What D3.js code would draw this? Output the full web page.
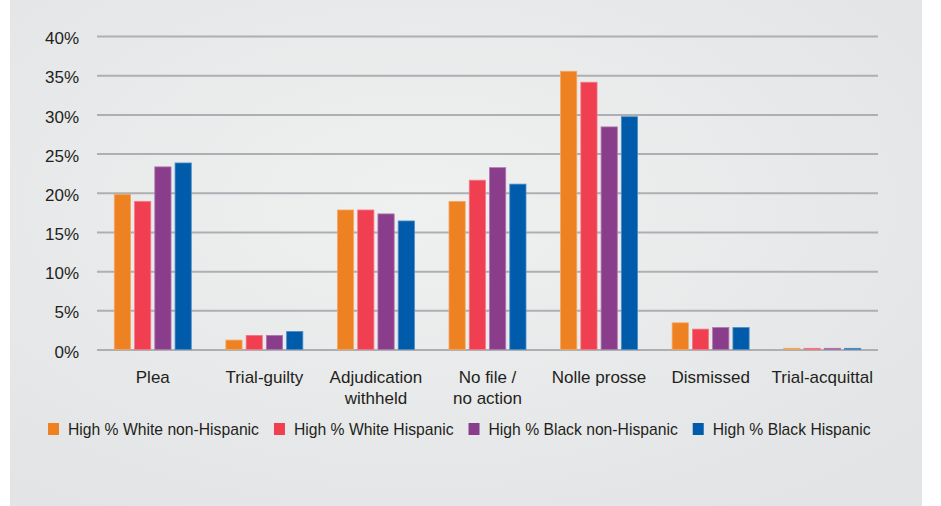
<!DOCTYPE html>
<html>
<head>
<meta charset="utf-8">
<script src="https://cdn.jsdelivr.net/npm/d3@7"></script>
<style>
  body { margin: 0; background: #fff; }
  text { font-family: "Liberation Sans", Arial, sans-serif; fill: #231f20; }
</style>
</head>
<body>
<div id="chart"></div>
<script>
// values (percent of cases)
var categories = ["Plea", "Trial-guilty", "Adjudication\nwithheld", "No file /\nno action", "Nolle prosse", "Dismissed", "Trial-acquittal"];
var seriesNames = ["High % White non-Hispanic", "High % White Hispanic", "High % Black non-Hispanic", "High % Black Hispanic"];
var whiteNonHispanic = [19.8, 1.2, 17.8, 18.9, 35.5, 3.4, 0.15];
var whiteHispanic = [18.9, 1.8, 17.8, 21.6, 34.1, 2.6, 0.15];
var blackNonHispanic = [23.3, 1.8, 17.3, 23.2, 28.4, 2.8, 0.15];
var blackHispanic = [23.8, 2.3, 16.4, 21.1, 29.7, 2.8, 0.15];
var yTicks = [0, 5, 10, 15, 20, 25, 30, 35, 40];
var colors = ["#ee8122", "#ef3f50", "#8a3d8a", "#005baa"];

var series = [whiteNonHispanic, whiteHispanic, blackNonHispanic, blackHispanic];

var width = 941,
  height = 506;

var svg = d3
  .select("#chart")
  .append("svg")
  .attr("width", width)
  .attr("height", height);

// card background with a soft light centre
var grad = svg
  .append("defs")
  .append("radialGradient")
  .attr("id", "bg")
  .attr("cx", "45%")
  .attr("cy", "40%")
  .attr("r", "70%");
grad.append("stop").attr("offset", "0%").attr("stop-color", "#eff0f0");
grad.append("stop").attr("offset", "100%").attr("stop-color", "#e3e4e5");

svg.append("rect").attr("width", width).attr("height", height).attr("fill", "#fff");
svg
  .append("rect")
  .attr("x", 10)
  .attr("y", 0)
  .attr("width", 912)
  .attr("height", height)
  .attr("fill", "url(#bg)");

var x0 = d3
  .scaleBand()
  .domain(categories)
  .range([97, 878])
  .paddingInner(0.31)
  .paddingOuter(0.155);

var x1 = d3
  .scaleBand()
  .domain(d3.range(series.length))
  .range([0, x0.bandwidth()])
  .paddingInner(0.2);

var y = d3.scaleLinear().domain([0, 40]).range([349.5, 36]);

// gridlines + y labels
var yAxis = d3
  .axisLeft(y)
  .tickValues(yTicks)
  .tickSize(-781)
  .tickPadding(18)
  .tickFormat(function (d) {
    return d + "%";
  });

var gy = svg.append("g").attr("transform", "translate(97,0)").call(yAxis);
gy.select(".domain").remove();
gy.selectAll(".tick line").attr("stroke", "#adafb2").attr("stroke-width", 2);
gy.selectAll(".tick text")
  .attr("dy", "0.45em")
  .style("font-size", "17px")
  .style("font-family", '"Liberation Sans", Arial, sans-serif')
  .attr("fill", "#231f20");

// bars
var groups = svg
  .append("g")
  .selectAll("g")
  .data(categories)
  .enter()
  .append("g")
  .attr("transform", function (d) {
    return "translate(" + x0(d) + ",0)";
  });

groups
  .selectAll("rect")
  .data(function (d, i) {
    return series.map(function (s, k) {
      return { k: k, v: s[i] };
    });
  })
  .enter()
  .append("rect")
  .attr("x", function (d) {
    return x1(d.k);
  })
  .attr("y", function (d) {
    return y(d.v);
  })
  .attr("width", x1.bandwidth())
  .attr("height", function (d) {
    return y(0) - y(d.v);
  })
  .attr("fill", function (d) {
    return colors[d.k];
  })
  .attr("stroke", function (d) {
    return d3.interpolateRgb(colors[d.k], "#ffffff")(0.3);
  })
  .attr("stroke-width", 0.8);

// category labels (some on two lines)
var labels = svg
  .append("g")
  .selectAll("text")
  .data(categories)
  .enter()
  .append("text")
  .attr("text-anchor", "middle")
  .style("font-size", "17px")
  .attr("x", function (d) {
    return x0(d) + x0.bandwidth() / 2;
  })
  .attr("y", 383);

labels
  .selectAll("tspan")
  .data(function (d) {
    return d.split("\n");
  })
  .enter()
  .append("tspan")
  .attr("x", function () {
    return d3.select(this.parentNode).attr("x");
  })
  .attr("dy", function (d, i) {
    return i === 0 ? 0 : 21;
  })
  .text(function (d) {
    return d;
  });

// legend
var lx = 48;
var legend = svg.append("g");
seriesNames.forEach(function (name, k) {
  legend
    .append("rect")
    .attr("x", lx)
    .attr("y", 423)
    .attr("width", 11)
    .attr("height", 12)
    .attr("fill", colors[k]);
  var t = legend
    .append("text")
    .attr("x", lx + 20)
    .attr("y", 435)
    .style("font-size", "15.7px")
    .text(name);
  lx = lx + 20 + t.node().getComputedTextLength() + 15;
});
</script>
</body>
</html>
